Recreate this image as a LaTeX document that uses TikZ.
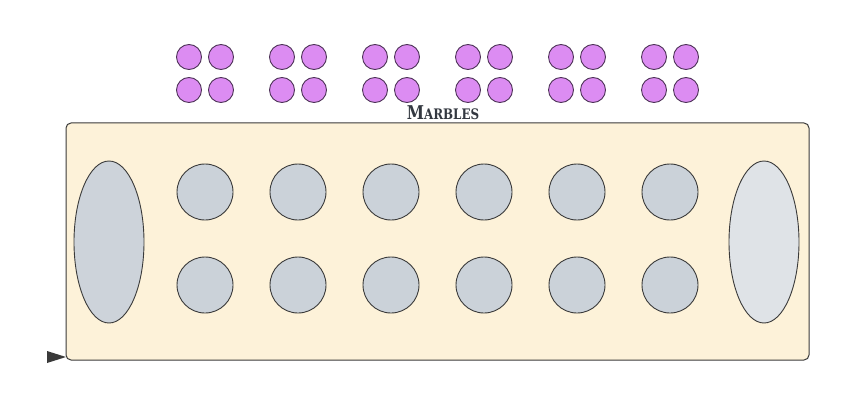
\documentclass[tikz,border=0pt]{standalone}
\usepackage{fontspec}
\newfontfamily\labelfont{DejaVu Serif}
\usetikzlibrary{shapes.geometric}
\definecolor{boardfill}{HTML}{FDF2D9}
\definecolor{edge}{HTML}{3A3A3A}
\definecolor{pitfill}{HTML}{CBD2D9}
\definecolor{storeL}{HTML}{CDD3DA}
\definecolor{storeR}{HTML}{DFE3E7}
\definecolor{marblefill}{HTML}{DC8CF2}
\definecolor{marbleedge}{HTML}{4E3358}
\definecolor{labelcol}{HTML}{333840}
\begin{document}
\begin{tikzpicture}[x=1pt,y=-1pt,
  board/.style={draw=edge,fill=boardfill,line width=1pt,rounded corners=5pt},
  pit/.style={circle,draw=edge,fill=pitfill,line width=0.9pt,minimum size=56pt,inner sep=0pt},
  store/.style={ellipse,draw=edge,line width=0.9pt,minimum width=70pt,minimum height=162pt,inner sep=0pt},
  marble/.style={circle,draw=marbleedge,fill=marblefill,line width=0.9pt,minimum size=25pt,inner sep=0pt}]
\useasboundingbox (0,0) rectangle (856,409);
\draw[board] (66,123) rectangle (809,360);
\node[store,fill=storeL] (storeL) at (109,242) {};
\node[store,fill=storeR] (storeR) at (764,242) {};
\foreach \i/\x in {1/205,2/298,3/391,4/484,5/577,6/670}{
  \node[pit] (top\i) at (\x,192) {};
  \node[pit] (bot\i) at (\x,285) {};
  \node[marble] (m\i a) at (\x-16,57) {};
  \node[marble] (m\i b) at (\x+16,57) {};
  \node[marble] (m\i c) at (\x-16,90) {};
  \node[marble] (m\i d) at (\x+16,90) {};
}
\node[text=labelcol,inner sep=0pt,xscale=0.82] (label) at (443,113) {\labelfont\bfseries{\fontsize{19}{19}\selectfont M}{\fontsize{14.5}{15}\selectfont ARBLES}};
\coordinate (tipstart) at (47,357);
\fill[edge] (47,351) -- (66,357) -- (47,363) -- cycle;
\end{tikzpicture}
\end{document}
